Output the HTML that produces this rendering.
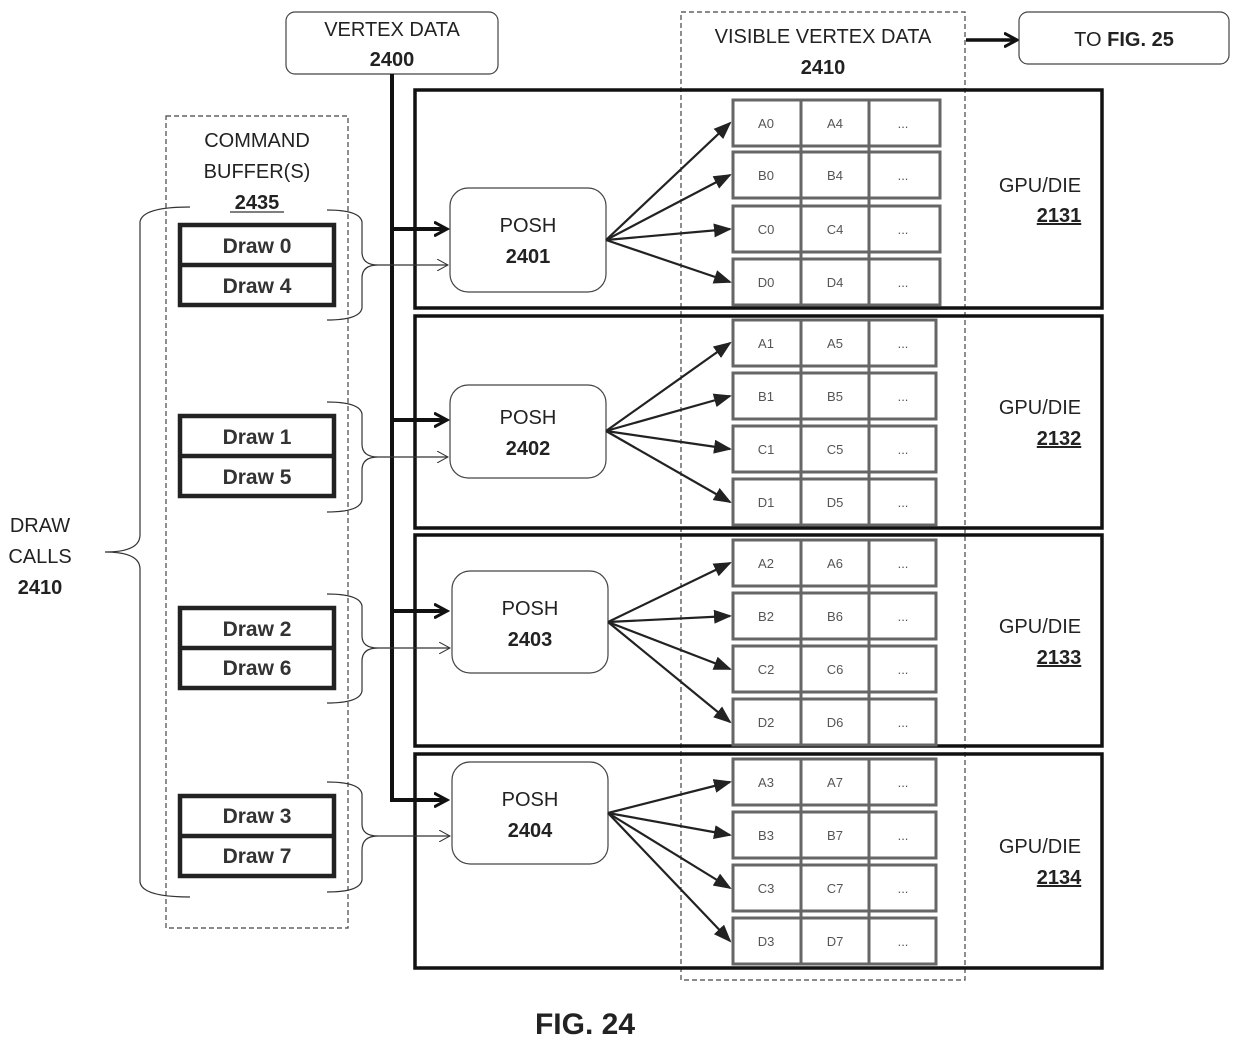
<!DOCTYPE html>
<html><head><style>
body{margin:0;background:#fff}
svg{display:block}
text{font-family:"Liberation Sans",sans-serif;fill:#222}
.b{font-weight:bold}
.c{font-size:13px;fill:#555;text-anchor:middle}
.d{font-size:21px;font-weight:bold;text-anchor:middle;fill:#333}
</style></head><body>
<svg width="1238" height="1040" viewBox="0 0 1238 1040" xmlns="http://www.w3.org/2000/svg">
<defs>
<marker id="ah" markerWidth="10" markerHeight="10" refX="8" refY="5" orient="auto" markerUnits="userSpaceOnUse"><path d="M0,0 L10,5 L0,10 z" fill="#222"/></marker>
<marker id="ab" markerWidth="16" markerHeight="16" refX="12" refY="8" orient="auto" markerUnits="userSpaceOnUse"><path d="M0,1 L13,8 L0,15" fill="none" stroke="#111" stroke-width="3"/></marker>
<marker id="at" markerWidth="12" markerHeight="12" refX="11" refY="6" orient="auto" markerUnits="userSpaceOnUse"><path d="M0,0 L11,6 L0,12" fill="none" stroke="#333" stroke-width="1"/></marker>
<marker id="af" markerWidth="18" markerHeight="14" refX="16" refY="7" orient="auto" markerUnits="userSpaceOnUse"><path d="M0,0 L18,7 L0,14 z" fill="#222"/></marker>
</defs>

<!-- top boxes -->
<rect x="286" y="12" width="212" height="62" rx="9" fill="#fff" stroke="#444" stroke-width="1.2"/>
<text x="392" y="36" font-size="20" text-anchor="middle">VERTEX DATA</text>
<text x="392" y="66" font-size="20" text-anchor="middle" class="b">2400</text>
<rect x="681" y="12" width="284" height="968" fill="none" stroke="#444" stroke-width="1.2" stroke-dasharray="5,3"/>
<text x="823" y="43" font-size="20" text-anchor="middle">VISIBLE VERTEX DATA</text>
<text x="823" y="74" font-size="20" text-anchor="middle" class="b">2410</text>
<line x1="966" y1="40" x2="1016" y2="40" stroke="#111" stroke-width="3.5" marker-end="url(#ab)"/>
<rect x="1019" y="12" width="210" height="52" rx="9" fill="#fff" stroke="#444" stroke-width="1.2"/>
<text x="1124" y="46" font-size="20" text-anchor="middle">TO <tspan class="b">FIG. 25</tspan></text>

<!-- command buffer -->
<rect x="166" y="116" width="182" height="812" fill="none" stroke="#444" stroke-width="1.2" stroke-dasharray="5,3"/>
<text x="257" y="147" font-size="20" text-anchor="middle">COMMAND</text>
<text x="257" y="178" font-size="20" text-anchor="middle">BUFFER(S)</text>
<text x="257" y="209" font-size="20" text-anchor="middle" class="b">2435</text>
<line x1="230" y1="212" x2="284" y2="212" stroke="#333" stroke-width="1.2"/>

<!-- GPU boxes -->
<rect x="415" y="90" width="687" height="218" fill="none" stroke="#111" stroke-width="3.5"/>
<rect x="415" y="316" width="687" height="212" fill="none" stroke="#111" stroke-width="3.5"/>
<rect x="415" y="535" width="687" height="211" fill="none" stroke="#111" stroke-width="3.5"/>
<rect x="415" y="754" width="687" height="214" fill="none" stroke="#111" stroke-width="3.5"/>
<g font-size="20" text-anchor="middle">
<text x="1040" y="192">GPU/DIE</text><text x="1059" y="222" class="b" text-decoration="underline">2131</text>
<text x="1040" y="414">GPU/DIE</text><text x="1059" y="445" class="b" text-decoration="underline">2132</text>
<text x="1040" y="633">GPU/DIE</text><text x="1059" y="664" class="b" text-decoration="underline">2133</text>
<text x="1040" y="853">GPU/DIE</text><text x="1059" y="884" class="b" text-decoration="underline">2134</text>
</g>

<!-- vertex data bus -->
<path d="M392,74 L392,800 L446,800" fill="none" stroke="#111" stroke-width="4" marker-end="url(#ab)"/>
<line x1="392" y1="229" x2="446" y2="229" stroke="#111" stroke-width="4" marker-end="url(#ab)"/>
<line x1="392" y1="420" x2="446" y2="420" stroke="#111" stroke-width="4" marker-end="url(#ab)"/>
<line x1="392" y1="611" x2="446" y2="611" stroke="#111" stroke-width="4" marker-end="url(#ab)"/>

<!-- POSH -->
<g font-size="20" text-anchor="middle">
<rect x="450" y="188" width="156" height="104" rx="18" fill="#fff" stroke="#444" stroke-width="1.2"/>
<text x="528" y="232">POSH</text><text x="528" y="263" class="b">2401</text>
<rect x="450" y="385" width="156" height="93" rx="18" fill="#fff" stroke="#444" stroke-width="1.2"/>
<text x="528" y="424">POSH</text><text x="528" y="455" class="b">2402</text>
<rect x="452" y="571" width="156" height="102" rx="18" fill="#fff" stroke="#444" stroke-width="1.2"/>
<text x="530" y="615">POSH</text><text x="530" y="646" class="b">2403</text>
<rect x="452" y="762" width="156" height="102" rx="18" fill="#fff" stroke="#444" stroke-width="1.2"/>
<text x="530" y="806">POSH</text><text x="530" y="837" class="b">2404</text>
</g>

<!-- fan arrows -->
<g stroke="#222" stroke-width="2.2" marker-end="url(#af)">
<line x1="606" y1="240" x2="730" y2="123"/><line x1="606" y1="240" x2="730" y2="175"/><line x1="606" y1="240" x2="730" y2="229"/><line x1="606" y1="240" x2="730" y2="282"/>
<line x1="606" y1="431" x2="730" y2="343"/><line x1="606" y1="431" x2="730" y2="396"/><line x1="606" y1="431" x2="730" y2="449"/><line x1="606" y1="431" x2="730" y2="502"/>
<line x1="608" y1="622" x2="730" y2="563"/><line x1="608" y1="622" x2="730" y2="616"/><line x1="608" y1="622" x2="730" y2="669"/><line x1="608" y1="622" x2="730" y2="722"/>
<line x1="608" y1="813" x2="730" y2="782"/><line x1="608" y1="813" x2="730" y2="835"/><line x1="608" y1="813" x2="730" y2="888"/><line x1="608" y1="813" x2="730" y2="941"/>
</g>

<!-- cells -->
<g fill="#fff" stroke="#666" stroke-width="3">
<rect x="733" y="100" width="207" height="46"/><rect x="733" y="152" width="207" height="46"/><rect x="733" y="206" width="207" height="46"/><rect x="733" y="259" width="207" height="46"/>
<rect x="733" y="320" width="203" height="46"/><rect x="733" y="373" width="203" height="46"/><rect x="733" y="426" width="203" height="46"/><rect x="733" y="479" width="203" height="46"/>
<rect x="733" y="540" width="203" height="46"/><rect x="733" y="593" width="203" height="46"/><rect x="733" y="646" width="203" height="46"/><rect x="733" y="699" width="203" height="46"/>
<rect x="733" y="759" width="203" height="46"/><rect x="733" y="812" width="203" height="46"/><rect x="733" y="865" width="203" height="46"/><rect x="733" y="918" width="203" height="46"/>
</g>
<g stroke="#666" stroke-width="3">
<line x1="801" y1="100" x2="801" y2="305"/><line x1="869" y1="100" x2="869" y2="305"/>
<line x1="801" y1="320" x2="801" y2="525"/><line x1="869" y1="320" x2="869" y2="525"/>
<line x1="801" y1="540" x2="801" y2="745"/><line x1="869" y1="540" x2="869" y2="745"/>
<line x1="801" y1="759" x2="801" y2="964"/><line x1="869" y1="759" x2="869" y2="964"/>
</g>
<g class="c">
<text x="766" y="128" class="c">A0</text><text x="835" y="128" class="c">A4</text><text x="903" y="128" class="c">...</text>
<text x="766" y="180" class="c">B0</text><text x="835" y="180" class="c">B4</text><text x="903" y="180" class="c">...</text>
<text x="766" y="234" class="c">C0</text><text x="835" y="234" class="c">C4</text><text x="903" y="234" class="c">...</text>
<text x="766" y="287" class="c">D0</text><text x="835" y="287" class="c">D4</text><text x="903" y="287" class="c">...</text>
<text x="766" y="348" class="c">A1</text><text x="835" y="348" class="c">A5</text><text x="903" y="348" class="c">...</text>
<text x="766" y="401" class="c">B1</text><text x="835" y="401" class="c">B5</text><text x="903" y="401" class="c">...</text>
<text x="766" y="454" class="c">C1</text><text x="835" y="454" class="c">C5</text><text x="903" y="454" class="c">...</text>
<text x="766" y="507" class="c">D1</text><text x="835" y="507" class="c">D5</text><text x="903" y="507" class="c">...</text>
<text x="766" y="568" class="c">A2</text><text x="835" y="568" class="c">A6</text><text x="903" y="568" class="c">...</text>
<text x="766" y="621" class="c">B2</text><text x="835" y="621" class="c">B6</text><text x="903" y="621" class="c">...</text>
<text x="766" y="674" class="c">C2</text><text x="835" y="674" class="c">C6</text><text x="903" y="674" class="c">...</text>
<text x="766" y="727" class="c">D2</text><text x="835" y="727" class="c">D6</text><text x="903" y="727" class="c">...</text>
<text x="766" y="787" class="c">A3</text><text x="835" y="787" class="c">A7</text><text x="903" y="787" class="c">...</text>
<text x="766" y="840" class="c">B3</text><text x="835" y="840" class="c">B7</text><text x="903" y="840" class="c">...</text>
<text x="766" y="893" class="c">C3</text><text x="835" y="893" class="c">C7</text><text x="903" y="893" class="c">...</text>
<text x="766" y="946" class="c">D3</text><text x="835" y="946" class="c">D7</text><text x="903" y="946" class="c">...</text>
</g>

<!-- draw boxes -->
<g fill="#fff" stroke="#222" stroke-width="4.5">
<rect x="180" y="225" width="154" height="80"/><line x1="180" y1="265" x2="334" y2="265"/>
<rect x="180" y="416" width="154" height="80"/><line x1="180" y1="456" x2="334" y2="456"/>
<rect x="180" y="608" width="154" height="80"/><line x1="180" y1="648" x2="334" y2="648"/>
<rect x="180" y="796" width="154" height="80"/><line x1="180" y1="836" x2="334" y2="836"/>
</g>
<text x="257" y="253" class="d">Draw 0</text><text x="257" y="293" class="d">Draw 4</text>
<text x="257" y="444" class="d">Draw 1</text><text x="257" y="484" class="d">Draw 5</text>
<text x="257" y="636" class="d">Draw 2</text><text x="257" y="675" class="d">Draw 6</text>
<text x="257" y="823" class="d">Draw 3</text><text x="257" y="863" class="d">Draw 7</text>

<!-- braces & thin arrows -->
<g fill="none" stroke="#333" stroke-width="1.2">
<path d="M327,210 Q360,210 362,222 L362,252 Q362,265 378,265 M327,320 Q360,320 362,308 L362,278 Q362,265 378,265"/>
<path d="M327,402 Q360,402 362,414 L362,444 Q362,457 378,457 M327,512 Q360,512 362,500 L362,470 Q362,457 378,457"/>
<path d="M327,594 Q360,594 362,606 L362,636 Q362,648 378,648 M327,703 Q360,703 362,691 L362,661 Q362,648 378,648"/>
<path d="M327,782 Q360,782 362,794 L362,824 Q362,836 378,836 M327,892 Q360,892 362,880 L362,850 Q362,836 378,836"/>
<path d="M190,207 Q142,207 140,222 L140,535 Q140,552 105,552 M190,897 Q142,897 140,882 L140,569 Q140,552 105,552"/>
<line x1="378" y1="265" x2="448" y2="265" marker-end="url(#at)"/>
<line x1="378" y1="457" x2="448" y2="457" marker-end="url(#at)"/>
<line x1="378" y1="648" x2="450" y2="648" marker-end="url(#at)"/>
<line x1="378" y1="836" x2="450" y2="836" marker-end="url(#at)"/>
</g>

<g font-size="20" text-anchor="middle">
<text x="40" y="532">DRAW</text><text x="40" y="563">CALLS</text><text x="40" y="594" class="b">2410</text>
</g>
<text x="585" y="1034" font-size="30" text-anchor="middle" class="b">FIG. 24</text>
</svg>
</body></html>
